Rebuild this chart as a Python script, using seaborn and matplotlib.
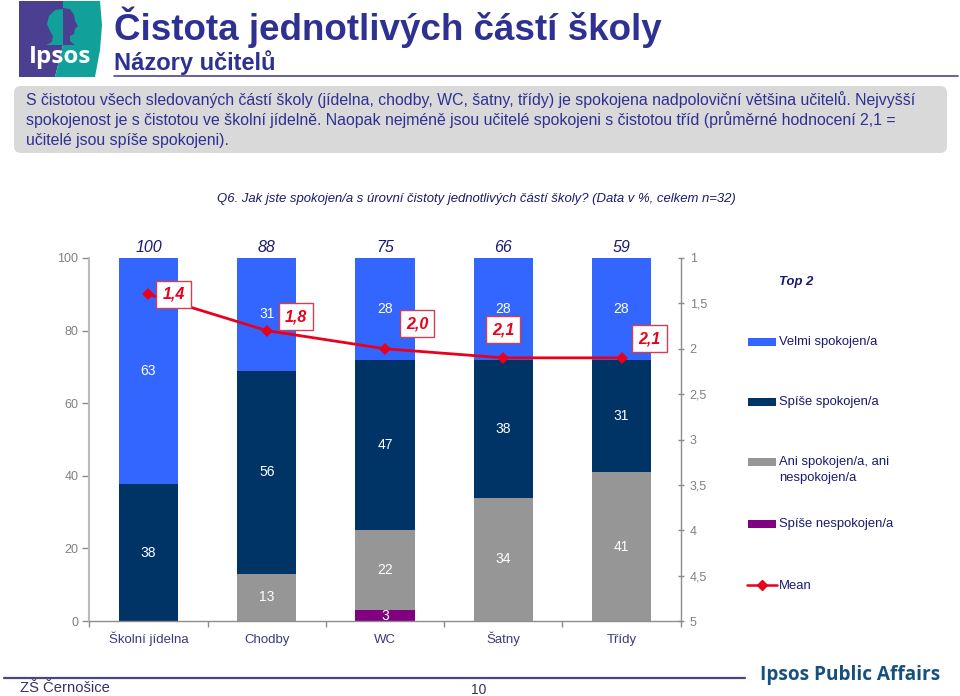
# Cistota jednotlivych casti skoly - stacked bars with mean line
import numpy as np
import pandas as pd
import seaborn as sns
import matplotlib.pyplot as plt
from matplotlib.patches import Rectangle, FancyBboxPatch, Polygon, Ellipse
from matplotlib.lines import Line2D

# Data
categories = ['Školní jídelna', 'Chodby', 'WC', 'Šatny', 'Třídy']
velmi = [63, 31, 28, 28, 28]
spise = [38, 56, 47, 38, 31]
ani = [0, 13, 22, 34, 41]
nespokojen = [0, 0, 3, 0, 0]
top2 = [100, 88, 75, 66, 59]
mean = [1.4, 1.8, 2.0, 2.1, 2.1]
mean_labels = ['1,4', '1,8', '2,0', '2,1', '2,1']
left_ticks = [0, 20, 40, 60, 80, 100]
right_ticks = [1, 1.5, 2, 2.5, 3, 3.5, 4, 4.5, 5]
right_labels = ['1', '1,5', '2', '2,5', '3', '3,5', '4', '4,5', '5']

C_BLUE = '#3366FF'
C_NAVY = '#003366'
C_GRAY = '#969696'
C_PURPLE = '#800080'
C_RED = '#E8001C'
C_TITLE = '#2E3192'
C_TEXT = '#1A1A6E'
C_AXIS = '#8C8C8C'
C_LOGO1 = '#4B3F92'
C_LOGO2 = '#12A19A'

sns.set_theme(style='white')
plt.rcParams['font.family'] = ['Liberation Sans', 'DejaVu Sans']

W, H = 960, 696
fig = plt.figure(figsize=(W / 100, H / 100), dpi=100)

# background layer in pixel coordinates
bg = fig.add_axes([0, 0, 1, 1], zorder=0)
bg.set_xlim(0, W)
bg.set_ylim(H, 0)
bg.axis('off')

# logo
bg.add_patch(Polygon([(19, 1), (63, 1), (63, 45), (55, 77), (19, 77)], color=C_LOGO1, lw=0))
bg.add_patch(Polygon([(63, 1), (100, 1), (102, 25), (100, 50), (95, 77), (55, 77), (63, 45)], color=C_LOGO2, lw=0))
bg.add_patch(Polygon([(63, 9), (55, 10), (49, 16), (47, 24), (50, 31), (53, 36), (52, 42), (46, 45), (63, 45)],
                     color=C_LOGO2, lw=0))
bg.add_patch(Polygon([(63, 8), (70, 9), (74, 15), (75, 21), (78, 26), (75, 29), (74, 34), (70, 36), (70, 41),
                      (75, 45), (63, 45)], color=C_LOGO1, lw=0))
bg.text(60, 57, 'Ipsos', color='white', fontsize=17.5, fontweight='bold', ha='center', va='center',
        family='Open Sans')

# headings
bg.text(114, 27, 'Čistota jednotlivých částí školy', color=C_TITLE, fontsize=26.5, fontweight='bold', va='center')
bg.text(114, 63, 'Názory učitelů', color=C_TITLE, fontsize=17, fontweight='bold', va='center')
bg.add_line(Line2D([114, 958], [76, 76], color='#4B4590', lw=1.2))

# summary box
bg.add_patch(FancyBboxPatch((18, 90), 925, 59, boxstyle='round,pad=4,rounding_size=7', color='#D9D9D9', lw=0))
summary = ['S čistotou všech sledovaných částí školy (jídelna, chodby, WC, šatny, třídy) je spokojena nadpoloviční většina učitelů. Nejvyšší',
           'spokojenost je s čistotou ve školní jídelně. Naopak nejméně jsou učitelé spokojeni s čistotou tříd (průměrné hodnocení 2,1 =',
           'učitelé jsou spíše spokojeni).']
for i, line in enumerate(summary):
    bg.text(26, 100 + i * 20, line, color=C_TITLE, fontsize=11.4, va='center')

bg.text(217, 199, 'Q6. Jak jste spokojen/a s úrovní čistoty jednotlivých částí školy? (Data v %, celkem n=32)',
        color=C_TEXT, fontsize=9.45, style='italic', va='center')

# legend, placed by hand because of the uneven rows
bg.text(779, 282, 'Top 2', color=C_TEXT, fontsize=9.4, fontweight='bold', style='italic', va='center')
legend_rows = [('Velmi spokojen/a', C_BLUE, 342), ('Spíše spokojen/a', C_NAVY, 402),
               ('Ani spokojen/a, ani\nnespokojen/a', C_GRAY, 462), ('Spíše nespokojen/a', C_PURPLE, 524)]
for label, col, y in legend_rows:
    bg.add_patch(Rectangle((748, y - 4), 28, 8, color=col, lw=0))
    bg.text(779, y - 6, label, color=C_TEXT, fontsize=9.4, va='top', linespacing=1.5)
bg.add_line(Line2D([747, 762, 777], [585, 585, 585], color=C_RED, lw=1.8, marker='D', ms=5, markevery=[1]))
bg.text(779, 586, 'Mean', color=C_TEXT, fontsize=9.4, va='center')

# footer
bg.add_line(Line2D([4, 745], [678, 678], color='#4B4580', lw=1.6))
bg.text(20, 688, 'ZŠ Černošice', color='#333366', fontsize=10.6, va='center')
bg.text(479, 690, '10', color='#333366', fontsize=10, ha='center', va='center')
bg.text(760, 675, 'Ipsos Public Affairs', color='#17507F', fontsize=13.7, fontweight='bold', va='center',
        family='Open Sans')

# main plot
ax = fig.add_axes([89.3 / W, 1 - 621 / H, 591.4 / W, 363 / H], zorder=1)
ax.patch.set_alpha(0)

# shares rescaled to 100 so that every column ends at the top
df = pd.DataFrame({'cat': categories, 'velmi': velmi, 'spise': spise, 'ani': ani, 'nesp': nespokojen})
series = [('nesp', C_PURPLE), ('ani', C_GRAY), ('spise', C_NAVY), ('velmi', C_BLUE)]
totals = df[['velmi', 'spise', 'ani', 'nesp']].sum(axis=1)
bottom = np.zeros(len(df))
for name, col in series:
    share = df[name] / totals * 100
    sns.barplot(x=df['cat'], y=share, bottom=bottom, color=col, width=0.5, saturation=1, linewidth=0, ax=ax, zorder=2)
    for i, (v, s) in enumerate(zip(df[name], share)):
        if v > 0:
            ax.text(i, bottom[i] + s / 2, str(v), color='white', fontsize=10, ha='center', va='center', zorder=3)
    bottom = bottom + share.values

for i, v in enumerate(top2):
    ax.text(i, 103, str(v), color=C_TEXT, fontsize=11.5, style='italic', ha='center', va='center', clip_on=False)

ax.set_xlim(-0.5, 4.5)
ax.set_ylim(0, 100)
ax.set_xlabel('')
ax.set_ylabel('')
ax.set_yticks(left_ticks)
ax.set_xticks(range(len(categories)))
ax.set_xticklabels(categories, va='baseline')
ax.set_xticks(np.arange(-0.5, 5), minor=True)
ax.tick_params(axis='x', which='major', length=0, pad=15.5, labelsize=9.5, labelcolor='#3B3B80')
ax.tick_params(axis='x', which='minor', length=4, width=1, color=C_AXIS, bottom=True)
ax.tick_params(axis='y', length=5, width=1, color=C_AXIS, left=True, pad=3, labelsize=9, labelcolor='#808080')
for side in ['top', 'right']:
    ax.spines[side].set_visible(False)
for side in ['left', 'bottom']:
    ax.spines[side].set_color(C_AXIS)
    ax.spines[side].set_linewidth(1)
ax.spines['left'].set_color('#BBBBBB')
ax.spines['left'].set_linewidth(1.5)

# mean on the reversed secondary axis
ax2 = ax.twinx()
ax2.set_zorder(2)
ax2.patch.set_alpha(0)
sns.lineplot(x=np.arange(len(mean)), y=mean, color=C_RED, lw=2, marker='D', markersize=6.5, markeredgewidth=0, ax=ax2)
ax2.set_xlim(-0.5, 4.5)
ax2.set_ylim(5, 1)
ax2.set_yticks(right_ticks)
ax2.set_yticklabels(right_labels)
ax2.set_ylabel('')
ax2.tick_params(axis='y', length=5, width=1, color=C_AXIS, right=True, direction='inout', pad=4, labelsize=9, labelcolor='#808080')
for side in ['top', 'left', 'bottom']:
    ax2.spines[side].set_visible(False)
ax2.spines['right'].set_color(C_AXIS)
ax2.spines['right'].set_linewidth(1)

offsets = [(25, 0), (29, 14), (32, 25), (0, 28), (28, 19)]
for i, (m, lab, off) in enumerate(zip(mean, mean_labels, offsets)):
    ax2.annotate(lab, (i, m), xytext=(off[0] * 0.72, off[1] * 0.72), textcoords='offset points',
                 color=C_RED, fontsize=11.5, fontweight='bold', style='italic', ha='center', va='center',
                 bbox=dict(boxstyle='square,pad=0.38', fc='white', ec='#D04050', lw=1), zorder=5)

fig.savefig('out.png', dpi=100)
